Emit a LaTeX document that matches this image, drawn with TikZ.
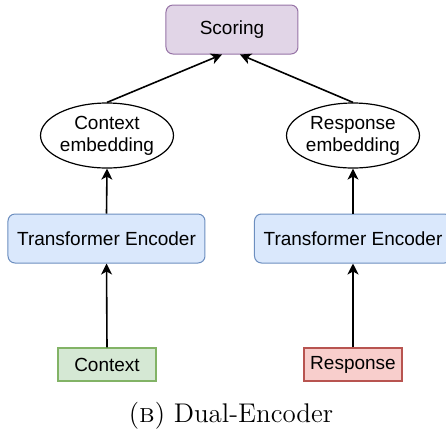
\documentclass[tikz,border=0pt]{standalone}
\usepackage{fontspec}
\setsansfont{Liberation Sans}
\usepackage{xcolor}
\usetikzlibrary{shapes.geometric,arrows.meta}

\definecolor{scorefill}{HTML}{E1D5E7}
\definecolor{scoredraw}{HTML}{9673A6}
\definecolor{encfill}{HTML}{DAE8FC}
\definecolor{encdraw}{HTML}{6C8EBF}
\definecolor{ctxfill}{HTML}{D5E8D4}
\definecolor{ctxdraw}{HTML}{82B366}
\definecolor{respfill}{HTML}{F8CECC}
\definecolor{respdraw}{HTML}{B85450}

\begin{document}
\begin{tikzpicture}[x=0.5pt,y=-0.5pt]
        \tikzset{blk/.append style={rectangle, rounded corners=3.5pt,
                    line width=0.5pt, inner sep=0pt,
                    minimum width=98.5pt, minimum height=24.5pt,
                    align=center, font=\sffamily\fontsize{9.5}{11}\selectfont},
                 emb/.style={ellipse, draw=black, line width=0.6pt,
                    inner sep=0pt, minimum width=66pt, minimum height=32.5pt,
                    align=center, font=\sffamily\fontsize{9.5}{11}\selectfont},
                 inp/.style={rectangle, line width=0.6pt, inner sep=0pt,
                    minimum width=49pt, minimum height=16.5pt,
                    font=\sffamily\fontsize{9.5}{11}\selectfont},
                 arr/.style={-{Stealth[length=5.5pt,width=5.5pt,inset=1.5pt]}, line width=0.8pt}}
        \useasboundingbox (0,0) rectangle (446,436);
        \node[blk, draw=scoredraw, fill=scorefill, minimum width=66pt] (sc) at (232,29.5) {Scoring};
        \node[emb] (ce) at (107,135.5) {Context\\embedding};
        \node[emb] (re) at (353,135.5) {Response\\embedding};
        \node[blk, draw=encdraw, fill=encfill] (ec) at (106.5,238.5) {Transformer Encoder};
        \node[blk, draw=encdraw, fill=encfill] (er) at (353,238.5) {Transformer Encoder};
        \node[inp, draw=ctxdraw, fill=ctxfill] (c) at (107,364.5) {Context};
        \node[inp, draw=respdraw, fill=respfill] (r) at (353,364.5) {Response};
        % arrows
        \draw[arr] (c.north) -- (ec.south);
        \draw[arr] (r.north) -- (er.south);
        \draw[arr] (ec.north) -- (ce.south);
        \draw[arr] (er.north) -- (re.south);
        \draw[arr] (ce.north) -- ([xshift=-5pt]sc.south);
        \draw[arr] (re.north) -- ([xshift=4pt]sc.south);
        % caption
        \node[font=\fontsize{13.5}{15}\selectfont] (cap) at (231,416) {(\textsc{b}) Dual-Encoder};
    \end{tikzpicture}
\end{document}
